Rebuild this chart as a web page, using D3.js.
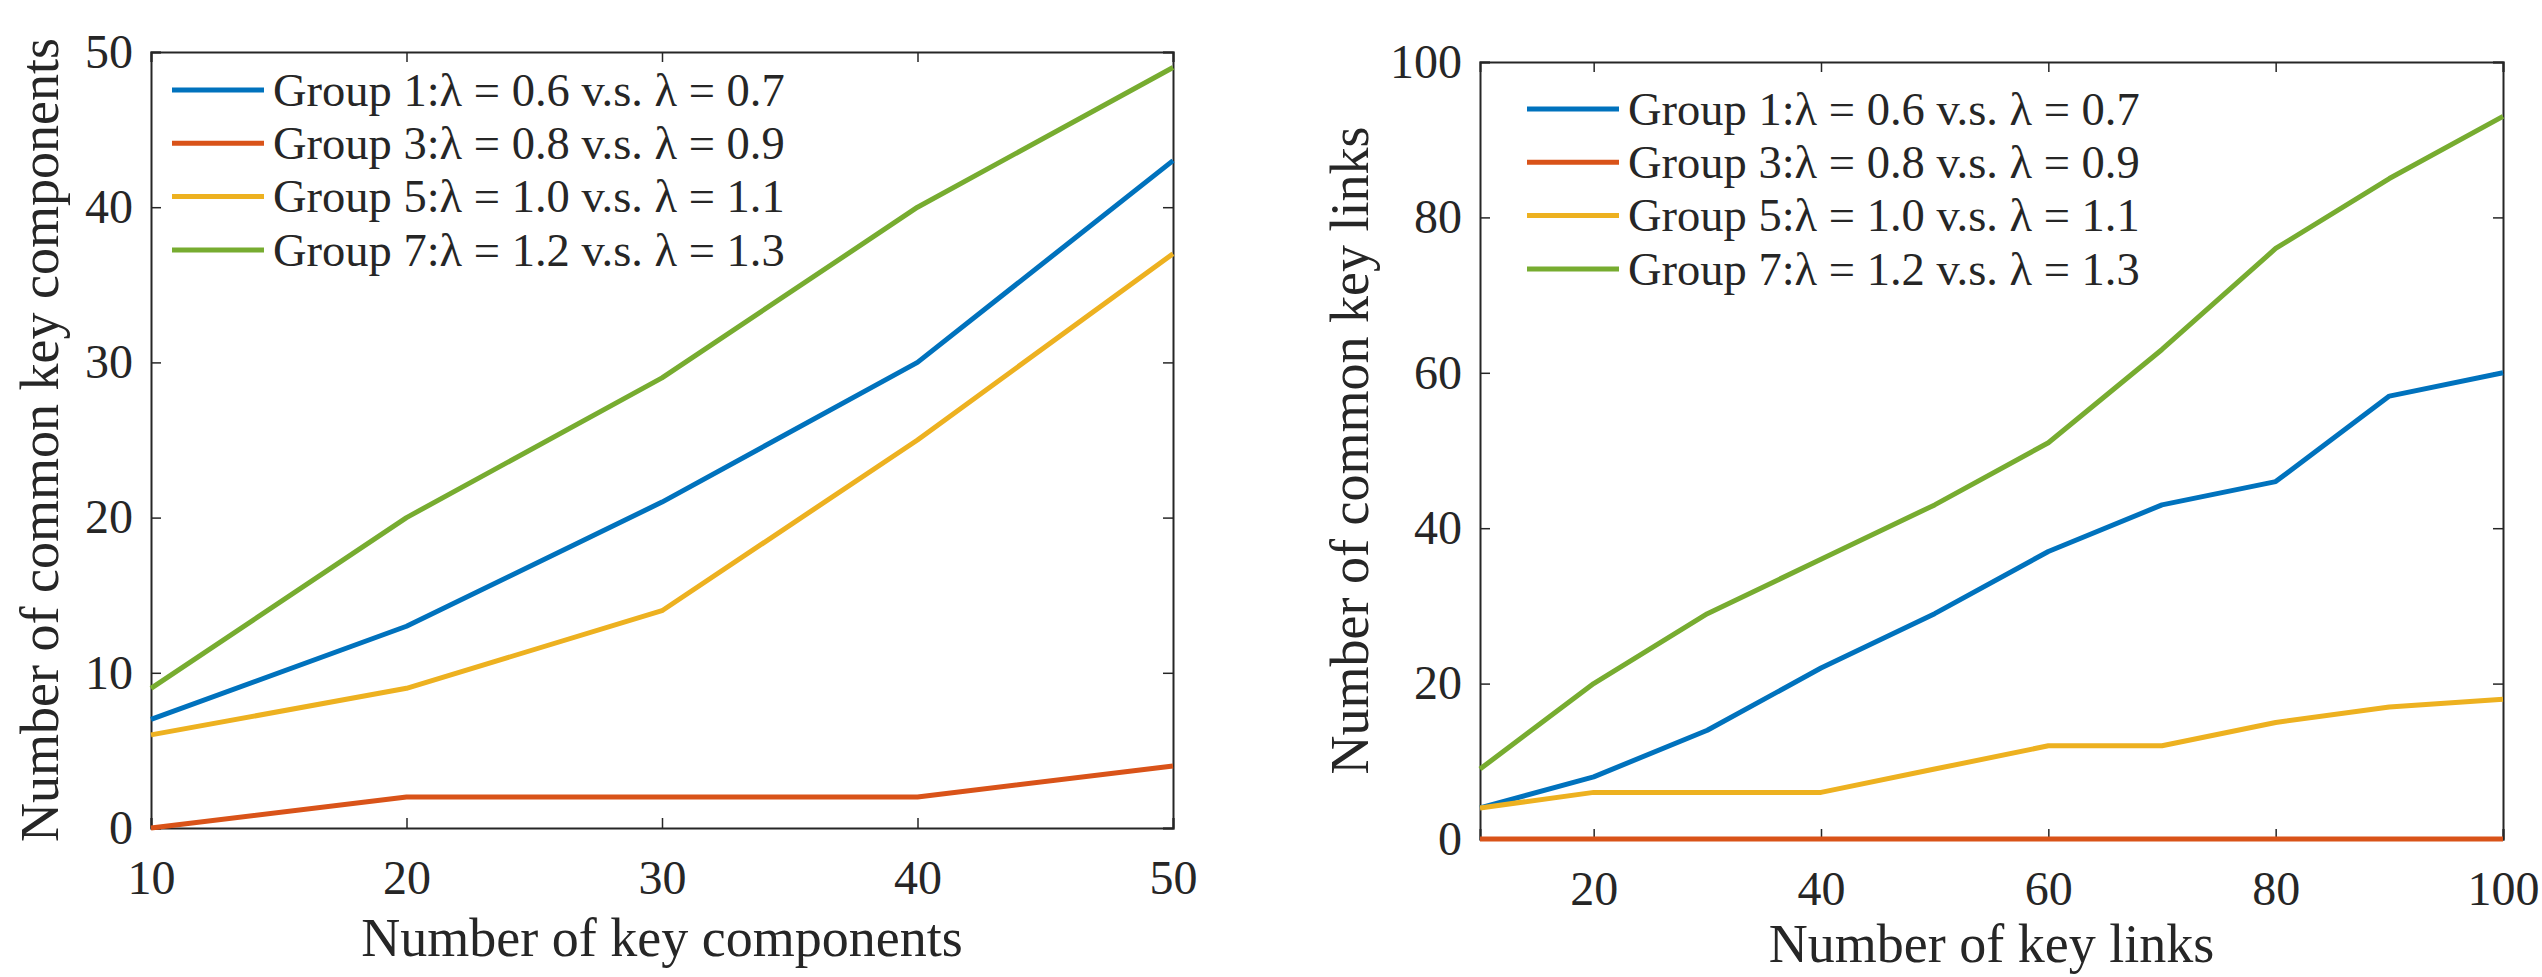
<!DOCTYPE html>
<html>
<head>
<meta charset="utf-8">
<script src="https://cdn.jsdelivr.net/npm/d3@7"></script>
<style>
  body { margin: 0; background: #fff; }
  text { font-family: "Liberation Serif", "Times New Roman", serif; fill: #262626; }
</style>
</head>
<body>
<div id="chart"></div>
<script>

// series names and colours (MATLAB default order)
var groups = ["Group 1", "Group 3", "Group 5", "Group 7"];
var lambdaA = ["0.6", "0.8", "1.0", "1.2"];
var lambdaB = ["0.7", "0.9", "1.1", "1.3"];
var colors = ["#0072BD", "#D95319", "#EDB120", "#77AC30"];

// left panel: common key components
var compX = [10, 20, 30, 40, 50];
var compG1 = [7, 13, 21, 30, 43];
var compG3 = [0, 2, 2, 2, 4];
var compG5 = [6, 9, 14, 25, 37];
var compG7 = [9, 20, 29, 40, 49];
var compXTicks = [10, 20, 30, 40, 50];
var compYTicks = [0, 10, 20, 30, 40, 50];

// right panel: common key links
var linkX = [10, 20, 30, 40, 50, 60, 70, 80, 90, 100];
var linkG1 = [4, 8, 14, 22, 29, 37, 43, 46, 57, 60];
var linkG3 = [0, 0, 0, 0, 0, 0, 0, 0, 0, 0];
var linkG5 = [4, 6, 6, 6, 9, 12, 12, 15, 17, 18];
var linkG7 = [9, 20, 29, 36, 43, 51, 63, 76, 85, 93];
var linkXTicks = [20, 40, 60, 80, 100];
var linkYTicks = [0, 20, 40, 60, 80, 100];

var width = 2542, height = 977;
var svg = d3.select("#chart").append("svg")
  .attr("width", width)
  .attr("height", height);

var panels = [
  { x0: 151, x1: 1173, y0: 52, y1: 828,
    xdom: [10, 50], ydom: [0, 50],
    xs: compX, series: [compG1, compG3, compG5, compG7],
    xticks: compXTicks, yticks: compYTicks,
    xlabel: "Number of key components", ylabel: "Number of common key components",
    ylabelX: 58, xlabelY: 956,
    legX: 172, legY: 90 },
  { x0: 1480, x1: 2503, y0: 62, y1: 839,
    xdom: [10, 100], ydom: [0, 100],
    xs: linkX, series: [linkG1, linkG3, linkG5, linkG7],
    xticks: linkXTicks, yticks: linkYTicks,
    xlabel: "Number of key links", ylabel: "Number of common key links",
    ylabelX: 1368, xlabelY: 962,
    legX: 1527, legY: 109 }
];

panels.forEach(function(p) {
  var x = d3.scaleLinear().domain(p.xdom).range([p.x0, p.x1]);
  var y = d3.scaleLinear().domain(p.ydom).range([p.y1, p.y0]);
  var g = svg.append("g");
  var tickLen = 10;

  // axes with inward ticks, box on
  var ax = g.append("g").attr("transform", "translate(0," + p.y1 + ")")
    .call(d3.axisBottom(x).tickValues(p.xticks).tickSize(-tickLen).tickPadding(30).tickFormat(d3.format("d")));
  g.append("g").attr("transform", "translate(0," + p.y0 + ")")
    .call(d3.axisTop(x).tickValues(p.xticks).tickSize(-tickLen).tickFormat(""));
  var ay = g.append("g").attr("transform", "translate(" + p.x0 + ",0)")
    .call(d3.axisLeft(y).tickValues(p.yticks).tickSize(-tickLen).tickPadding(18).tickFormat(d3.format("d")));
  g.append("g").attr("transform", "translate(" + p.x1 + ",0)")
    .call(d3.axisRight(y).tickValues(p.yticks).tickSize(-tickLen).tickFormat(""));

  g.selectAll(".domain").attr("stroke", "#262626").attr("stroke-width", 2);
  g.selectAll(".tick line").attr("stroke", "#262626").attr("stroke-width", 1.5);
  g.selectAll(".tick text")
    .style("font-family", "'Liberation Serif', serif")
    .attr("font-size", "48px").attr("fill", "#262626");
  ax.selectAll(".tick text").attr("dy", "0.75em");

  // lines
  var line = d3.line()
    .x(function(d, i) { return x(p.xs[i]); })
    .y(function(d) { return y(d); });
  p.series.forEach(function(s, k) {
    g.append("path")
      .datum(s)
      .attr("d", line)
      .attr("fill", "none")
      .attr("stroke", colors[k])
      .attr("stroke-width", 5)
      .attr("stroke-linejoin", "round");
  });

  // legend (no box)
  groups.forEach(function(name, k) {
    var ly = p.legY + k * 53.3;
    g.append("line")
      .attr("x1", p.legX).attr("x2", p.legX + 92)
      .attr("y1", ly).attr("y2", ly)
      .attr("stroke", colors[k]).attr("stroke-width", 5);
    g.append("text")
      .attr("x", p.legX + 101).attr("y", ly)
      .attr("dy", "0.34em")
      .attr("font-size", "46.5px")
      .text(name + ":\u03bb = " + lambdaA[k] + " v.s. \u03bb = " + lambdaB[k]);
  });

  // axis titles
  g.append("text")
    .attr("x", (p.x0 + p.x1) / 2).attr("y", p.xlabelY)
    .attr("text-anchor", "middle")
    .attr("font-size", "54px")
    .text(p.xlabel);
  g.append("text")
    .attr("transform", "translate(" + p.ylabelX + "," + (p.y0 + p.y1) / 2 + ") rotate(-90)")
    .attr("text-anchor", "middle")
    .attr("font-size", "54px")
    .text(p.ylabel);
});

</script>
</body>
</html>
